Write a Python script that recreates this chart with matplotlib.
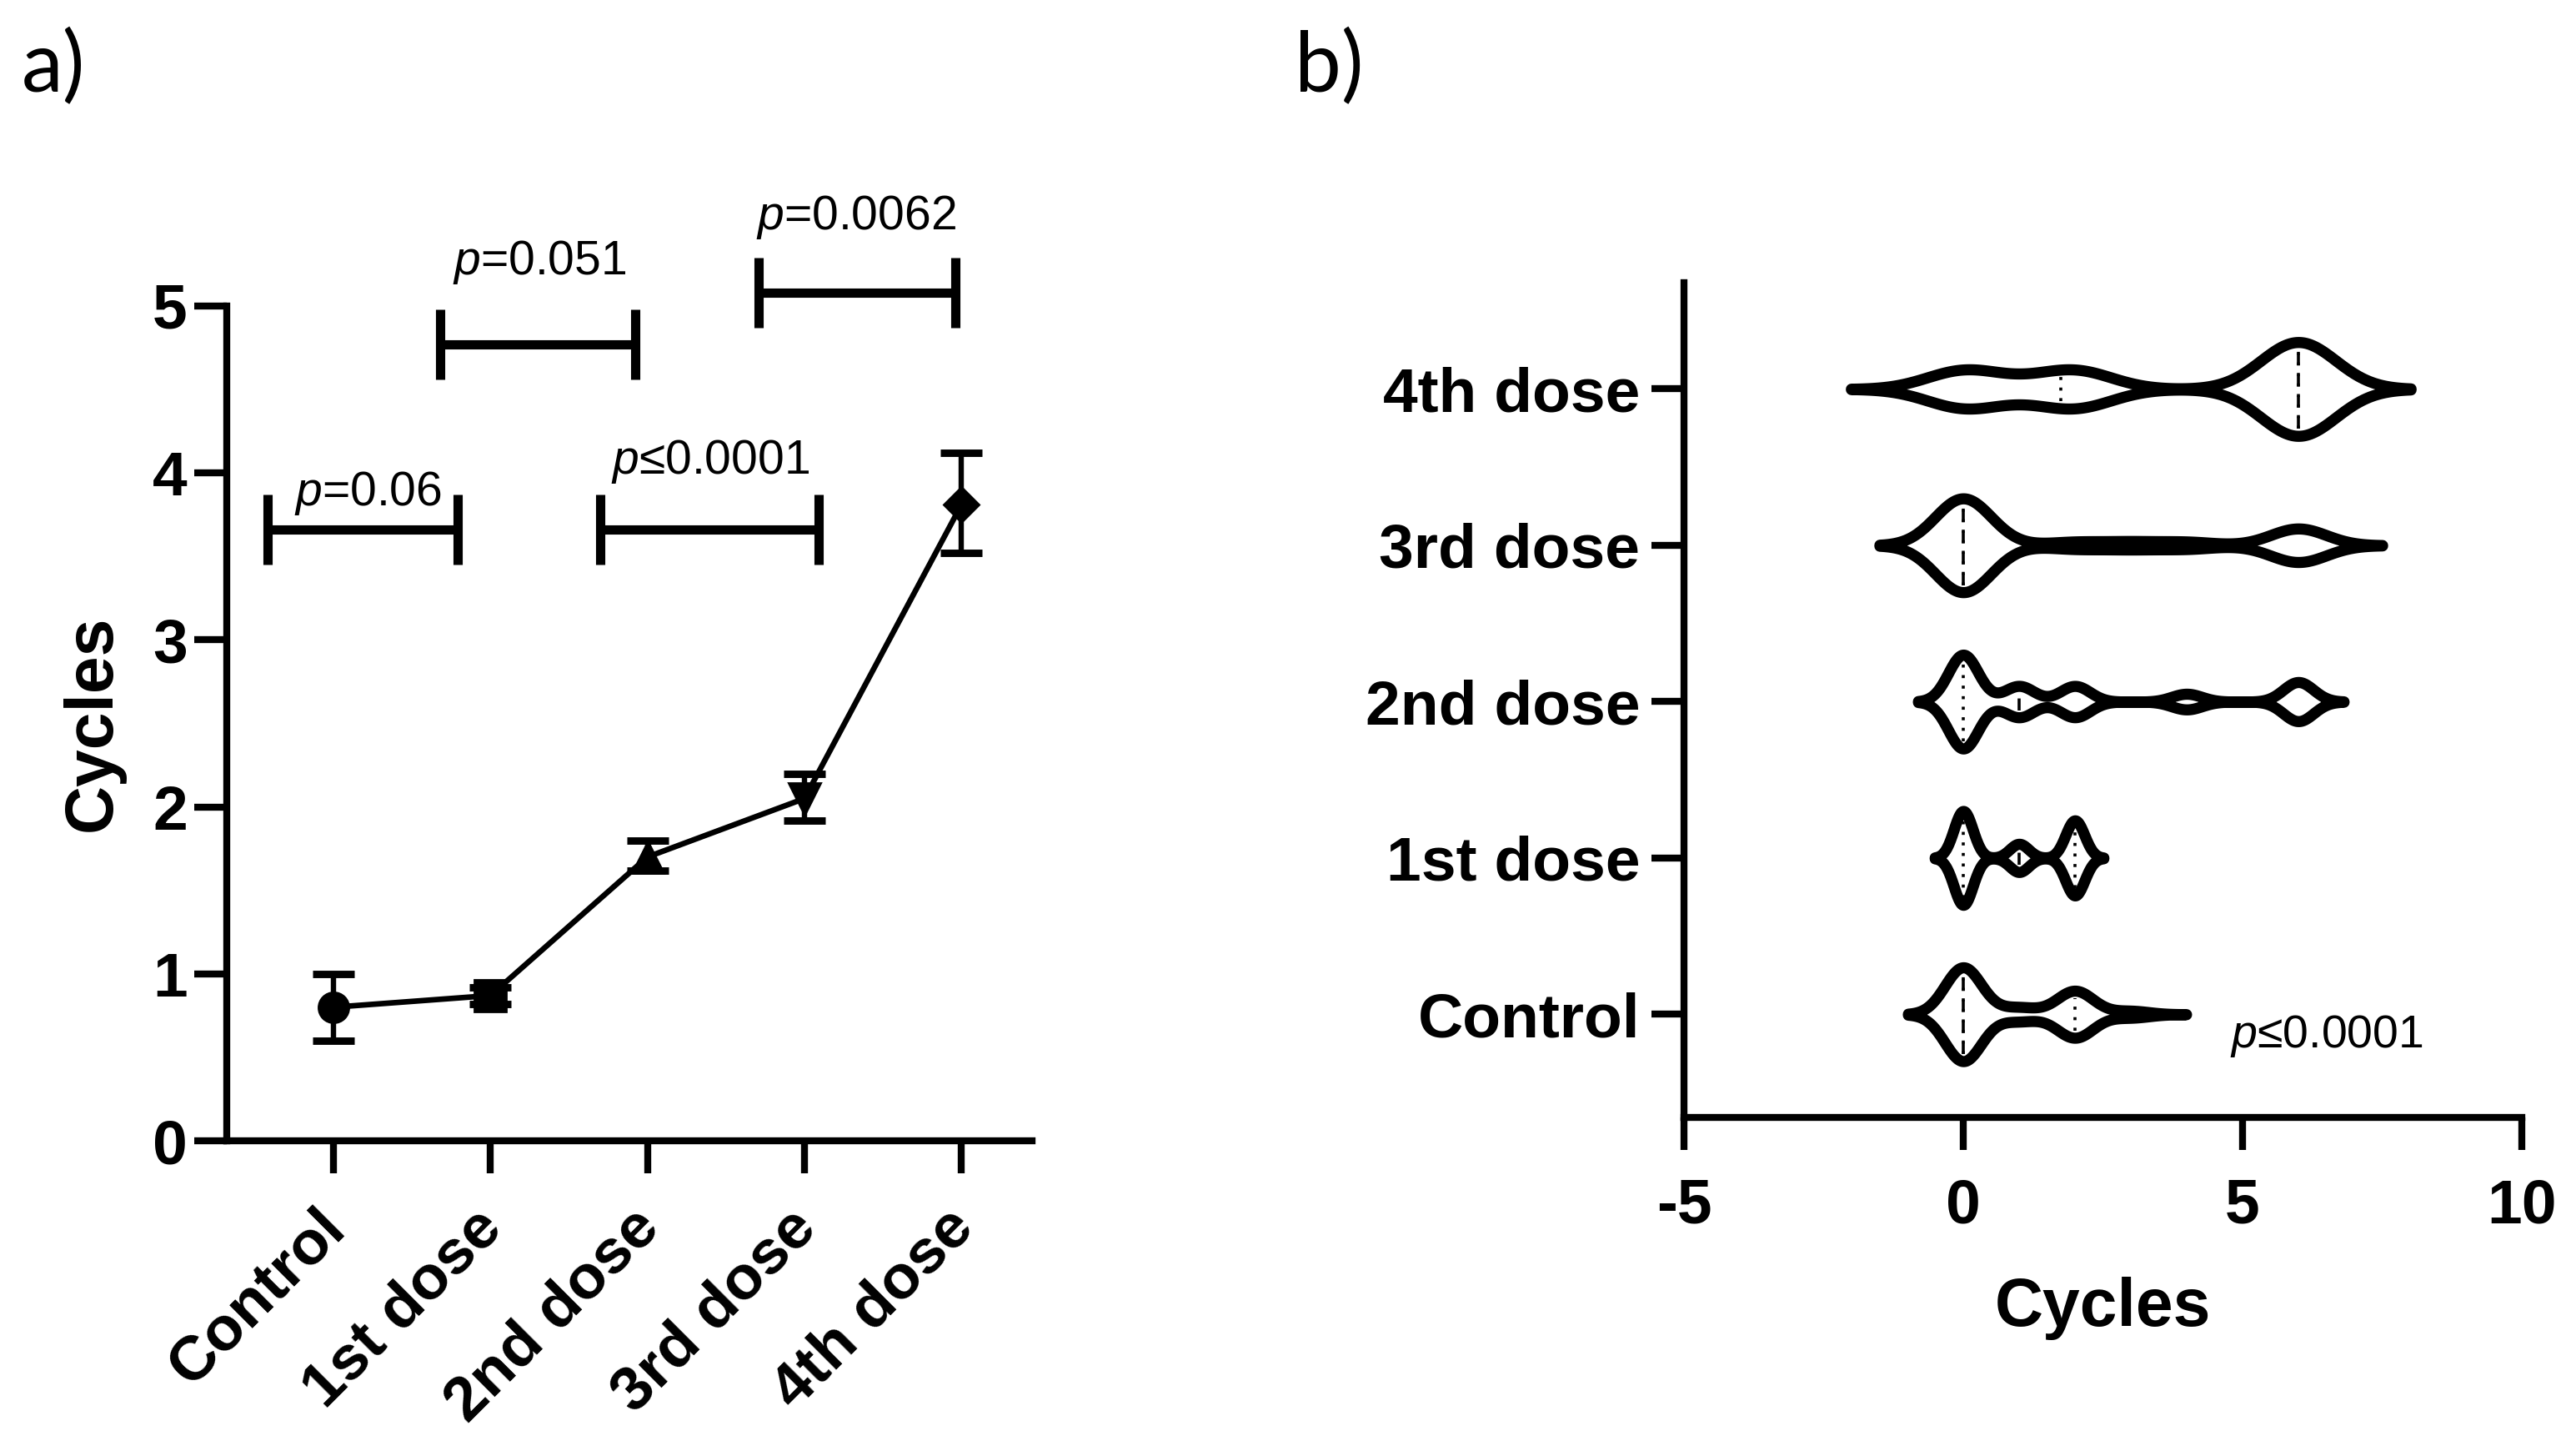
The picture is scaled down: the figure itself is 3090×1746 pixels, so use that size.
import numpy as np
import matplotlib
matplotlib.use('Agg')
import matplotlib.pyplot as plt
from matplotlib.transforms import ScaledTranslation

plt.rcParams['font.family'] = ['Liberation Sans', 'DejaVu Sans']
plt.rcParams['mathtext.fontset'] = 'custom'
plt.rcParams['mathtext.it'] = 'Liberation Sans:italic'
plt.rcParams['mathtext.rm'] = 'Liberation Sans'
plt.rcParams['axes.unicode_minus'] = False

# ---------------- data ----------------
groups = ['Control', '1st dose', '2nd dose', '3rd dose', '4th dose']
mean_cycles = [0.80, 0.87, 1.70, 2.05, 3.81]
err_low = [0.20, 0.05, 0.08, 0.13, 0.29]
err_high = [0.20, 0.05, 0.10, 0.15, 0.31]
group_markers = ['o', 's', '^', 'v', 'D']

# pairwise comparisons (left panel)
cmp_p = ['=0.06', '=0.051', '\u22640.0001', '=0.0062']

# violin raw data: number of subjects at each cycle count
cycle_values = [0, 1, 2, 3, 4, 5, 6]
control_counts = [14, 2, 7, 1, 0, 0, 0]
dose1_counts = [10, 3, 8, 0, 0, 0, 0]
dose2_counts = [12, 4, 4, 0, 2, 0, 5]
dose3_counts = [14, 0, 1, 1, 1, 0, 5]
dose4_counts = [5, 1, 5, 0, 0, 0, 13]
kde_bandwidth = [0.33, 0.17, 0.27, 0.50, 0.67]
overall_p = '\u22640.0001'

# ---------------- figure ----------------
W, H = 3090, 1746
DPI = 200
fig = plt.figure(figsize=(W / DPI, H / DPI), dpi=DPI)

TICK_FS = 27
LW_AX = 3.0

def fx(px):
    return px / W

def fy(py):
    return 1 - py / H

# ---- panel a ----
axa = fig.add_axes([fx(272), fy(1368), fx(1238 - 272), fy(367) - fy(1368)])
x = np.arange(len(groups))
axa.plot(x, mean_cycles, color='black', lw=2.4, zorder=2)
axa.errorbar(x, mean_cycles, yerr=[err_low, err_high], fmt='none', ecolor='black',
             elinewidth=2.3, capsize=9, capthick=3.2, zorder=3)
marker_sizes = [13, 14, 14, 14, 10.5]
for xi, yi, m, ms in zip(x, mean_cycles, group_markers, marker_sizes):
    axa.plot(xi, yi, marker=m, ms=ms, color='black', zorder=4)

axa.set_xlim(-0.68, 4.45)
axa.set_ylim(0, 5)
axa.spines['top'].set_visible(False)
axa.spines['right'].set_visible(False)
for s in ['left', 'bottom']:
    axa.spines[s].set_linewidth(LW_AX)
axa.set_yticks([0, 1, 2, 3, 4, 5])
axa.set_xticks(x)
axa.set_xticklabels(groups, rotation=45, ha='right', va='top', rotation_mode='anchor')
axa.tick_params(length=14, width=LW_AX, labelsize=TICK_FS)
axa.tick_params(axis='y', pad=3)
axa.tick_params(axis='x', pad=5)
shift = ScaledTranslation(-21 / DPI, -16 / DPI, fig.dpi_scale_trans)
for lab in axa.get_xticklabels():
    lab.set_transform(lab.get_transform() + shift)
for lab in axa.get_xticklabels() + axa.get_yticklabels():
    lab.set_fontweight('bold')
axa.set_ylabel('Cycles', fontsize=29, fontweight='bold', labelpad=12)

# comparison brackets (annotation layout)
bracket_x0 = [-0.42, 0.68, 1.70, 2.71]
bracket_x1 = [0.79, 1.92, 3.09, 3.96]
bracket_y = [3.66, 4.77, 3.66, 5.08]
label_x = [0.22, 1.31, 2.40, 3.33]
label_y = [3.88, 5.26, 4.07, 5.53]
for x0, x1, by, p, lx, ly in zip(bracket_x0, bracket_x1, bracket_y, cmp_p, label_x, label_y):
    axa.plot([x0, x1], [by, by], color='black', lw=4, clip_on=False, solid_capstyle='butt')
    for xe in (x0, x1):
        axa.plot([xe, xe], [by - 0.21, by + 0.21], color='black', lw=4, clip_on=False,
                 solid_capstyle='butt')
    axa.text(lx, ly, r'$\it{p}$' + p, ha='center', va='center', fontsize=20.5, clip_on=False)

# ---- panel b ----
axb = fig.add_axes([fx(2020), fy(1340), fx(3025 - 2020), fy(339) - fy(1340)])
all_counts = [control_counts, dose1_counts, dose2_counts, dose3_counts, dose4_counts]
vpstats = []
samples = []
for counts, bw in zip(all_counts, kde_bandwidth):
    vals = np.repeat(cycle_values, counts).astype(float)
    samples.append(vals)
    grid = np.linspace(vals.min() - 3 * bw, vals.max() + 3 * bw, 600)
    dens = np.exp(-0.5 * ((grid[:, None] - vals[None, :]) / bw) ** 2).sum(axis=1)
    vpstats.append(dict(coords=grid, vals=dens, mean=vals.mean(), median=np.median(vals),
                        min=vals.min(), max=vals.max()))

VW = 0.6
parts = axb.violin(vpstats, positions=np.arange(len(groups)), orientation='horizontal',
                   widths=VW, showmeans=False, showextrema=False, showmedians=False)
for b in parts['bodies']:
    b.set_facecolor('white')
    b.set_edgecolor('black')
    b.set_linewidth(4.8)
    b.set_alpha(1)
    b.set_zorder(2)
    b.set_joinstyle('round')

for i, (st, vals) in enumerate(zip(vpstats, samples)):
    scale = VW / 2 / st['vals'].max()
    q1, med, q3 = np.percentile(vals, [25, 50, 75])
    for q, ls in ((q1, (0, (1, 2.5))), (q3, (0, (1, 2.5))), (med, (0, (4, 3)))):
        w = np.interp(q, st['coords'], st['vals']) * scale - 0.045
        if w > 0.03:
            axb.plot([q, q], [i - w, i + w], color='black', lw=1.3, ls=ls, zorder=3)

axb.set_xlim(-5, 10)
axb.set_ylim(-0.66, 4.68)
axb.spines['top'].set_visible(False)
axb.spines['right'].set_visible(False)
for s in ['left', 'bottom']:
    axb.spines[s].set_linewidth(LW_AX)
axb.set_xticks([-5, 0, 5, 10])
axb.set_yticks(np.arange(len(groups)))
axb.set_yticklabels(groups)
axb.tick_params(length=14, width=LW_AX, labelsize=TICK_FS)
axb.tick_params(axis='x', pad=12)
axb.tick_params(axis='y', pad=5)
for lab in axb.get_xticklabels() + axb.get_yticklabels():
    lab.set_fontweight('bold')
axb.set_xlabel('Cycles', fontsize=29, fontweight='bold', labelpad=18)
axb.text(6.5, -0.14, r'$\it{p}$' + overall_p, ha='center', va='center', fontsize=20)

# panel letters
fig.text(fx(26), fy(34), 'a)', fontsize=36, ha='left', va='top', family=['Lato', 'Liberation Sans'])
fig.text(fx(1553), fy(34), 'b)', fontsize=36, ha='left', va='top', family=['Lato', 'Liberation Sans'])

fig.savefig('out.png', dpi=DPI, facecolor='white')
